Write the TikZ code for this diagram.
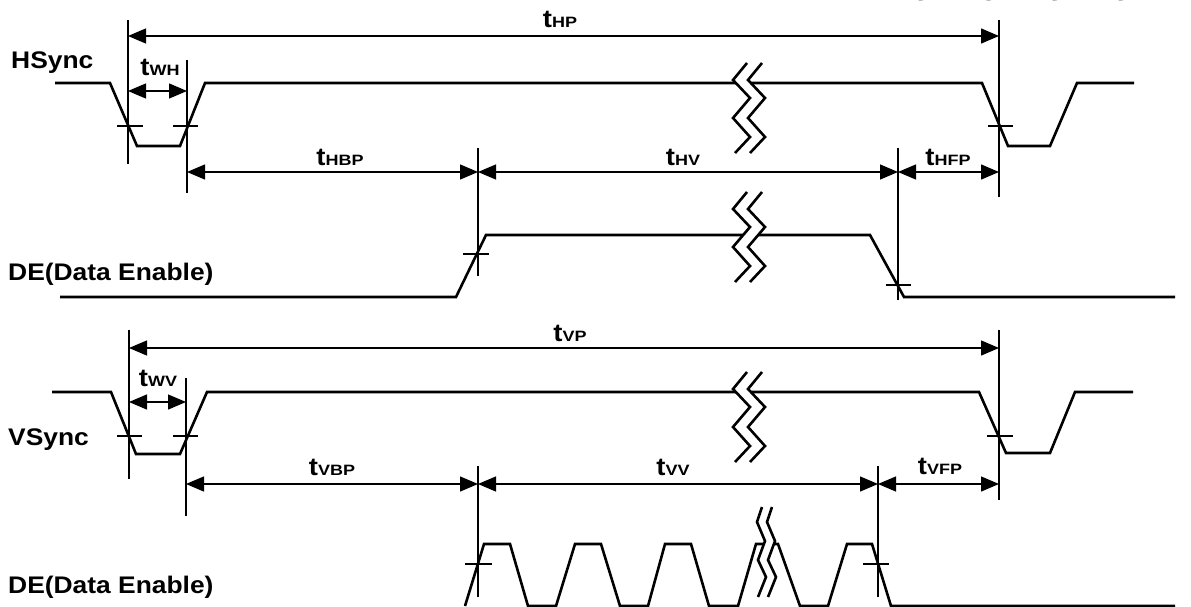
\documentclass[tikz,border=0pt]{standalone}
\usepackage{fontspec}
\setmainfont{Liberation Sans}[FakeStretch=1.1]
\usetikzlibrary{arrows.meta}

% timing label: big t with small subscript on the baseline
\newcommand{\tsub}[1]{{\fontsize{25}{25}\selectfont\bfseries t}{\fontsize{15}{15}\selectfont\bfseries\addfontfeature{FakeStretch=1.2}#1}}
% break mark across a waveform
\newcommand{\wavebreak}[1]{%
  \begin{scope}[shift={#1}]
    \fill[white] (0,0) -- (-14,17) -- (3,35) -- (-14,55) -- (3,74) -- (-12,90) -- (3,90) -- (18,74) -- (1,55) -- (18,35) -- (1,17) -- (15,0) -- cycle;
    \draw[wave] (0,0) -- (-14,17) -- (3,35) -- (-14,55) -- (3,74) -- (-12,90);
    \draw[wave] (15,0) -- (1,17) -- (18,35) -- (1,55) -- (18,74) -- (3,90);
  \end{scope}}

\begin{document}
\begin{tikzpicture}[x=1pt, y=-1pt,
  wave/.style={line width=2.6pt},
  refline/.style={line width=1.5pt},
  crossmark/.style={line width=1.2pt},
  dimline/.style={line width=1.3pt, {Triangle[length=18pt,width=15pt]}-{Triangle[length=18pt,width=15pt]}},
  sig/.style={font=\fontsize{24}{24}\selectfont\bfseries, anchor=west, inner sep=0pt},
  tlab/.style={inner sep=0pt}]
\useasboundingbox (0,0) rectangle (1191,607);

% formula cut by the top edge
\node[tlab, anchor=base west, scale=1.45] (formula) at (912,1) {\tsub{VD} = \tsub{VP} + \tsub{VV} + \tsub{VFP}};

% signal names
\node[sig] (hsync) at (11,63) {HSync};
\node[sig] (de1) at (8,274) {DE(Data Enable)};
\node[sig] (vsync) at (8,440) {VSync};
\node[sig] (de2) at (8,587) {DE(Data Enable)};

% ---- HSync ----
\draw[wave] (55,83) -- (110,83) -- (137,146) -- (180,146) -- (205,83) -- (982,83) -- (1008,146) -- (1050,146) -- (1077,83) -- (1134,83);
\wavebreak{(747,63)}
\coordinate (h1) at (128,20);  \coordinate (h1b) at (128,164);
\coordinate (h2) at (187,60);  \coordinate (h2b) at (187,193);
\coordinate (h3) at (999,20);  \coordinate (h3b) at (999,197);
\draw[refline] (h1) -- (h1b);
\draw[refline] (h2) -- (h2b);
\draw[refline] (h3) -- (h3b);
\draw[crossmark] (117,126) -- (143,126);
\draw[crossmark] (173,126) -- (198,126);
\draw[crossmark] (988,126) -- (1013,126);

% ---- DE (line) ----
\draw[wave] (60,297) -- (456,297) -- (486,235) -- (870,235) -- (904,297) -- (1175,297);
\wavebreak{(747,192)}
\coordinate (d1) at (478,148); \coordinate (d1b) at (478,276);
\coordinate (d2) at (898,148); \coordinate (d2b) at (898,300);
\draw[refline] (d1) -- (d1b);
\draw[refline] (d2) -- (d2b);
\draw[crossmark] (463,254) -- (489,254);
\draw[crossmark] (886,285) -- (911,285);

% horizontal timings
\draw[dimline] (128,36) -- (999,36);
\node[tlab] (thp) at (560,19) {\tsub{HP}};
\draw[dimline] (128,91) -- (187,91);
\node[tlab] (twh) at (160,67) {\tsub{WH}};
\draw[dimline] (187,172) -- (478,172);
\node[tlab] (thbp) at (340,157) {\tsub{HBP}};
\draw[dimline] (478,172) -- (898,172);
\node[tlab] (thv) at (683,157) {\tsub{HV}};
\draw[dimline] (898,172) -- (999,172);
\node[tlab] (thfp) at (948,157) {\tsub{HFP}};

% ---- VSync ----
\draw[wave] (52,392) -- (111,392) -- (136,454) -- (180,454) -- (207,392) -- (979,392) -- (1006,453) -- (1050,453) -- (1075,392) -- (1133,392);
\wavebreak{(747,372)}
\coordinate (v1) at (129,330); \coordinate (v1b) at (129,479);
\coordinate (v2) at (186,378); \coordinate (v2b) at (186,516);
\coordinate (v3) at (999,330); \coordinate (v3b) at (999,500);
\draw[refline] (v1) -- (v1b);
\draw[refline] (v2) -- (v2b);
\draw[refline] (v3) -- (v3b);
\draw[crossmark] (117,436) -- (142,436);
\draw[crossmark] (173,436) -- (198,436);
\draw[crossmark] (987,436) -- (1013,436);

% ---- DE (frame) ----
\draw[wave] (465,606) -- (484,544) -- (510,544) -- (528,606) -- (556,606) -- (575,544) -- (601,544) -- (620,606) -- (648,606) -- (665,544) -- (691,544) -- (709,606) -- (738,606) -- (756,544) -- (778,544) -- (800,606) -- (828,606) -- (847,544) -- (872,544) -- (891,606) -- (1175,606);
\fill[white] (762,507) -- (757,522) -- (765,541) -- (758,560) -- (766,577) -- (758,597) -- (768,597) -- (776,577) -- (768,560) -- (775,541) -- (767,522) -- (772,507) -- cycle;
\draw[wave] (762,507) -- (757,522) -- (765,541) -- (758,560) -- (766,577) -- (758,597);
\draw[wave] (772,507) -- (767,522) -- (775,541) -- (768,560) -- (776,577) -- (768,597);
\coordinate (e1) at (478,466); \coordinate (e1b) at (478,597);
\coordinate (e2) at (878,466); \coordinate (e2b) at (878,597);
\draw[refline] (e1) -- (e1b);
\draw[refline] (e2) -- (e2b);
\draw[crossmark] (465,564) -- (492,564);
\draw[crossmark] (863,564) -- (889,564);

% vertical timings
\draw[dimline] (129,348) -- (999,348);
\node[tlab] (tvp) at (570,333) {\tsub{VP}};
\draw[dimline] (129,402) -- (186,402);
\node[tlab] (twv) at (158,378) {\tsub{WV}};
\draw[dimline] (186,484) -- (478,484);
\node[tlab] (tvbp) at (332,467) {\tsub{VBP}};
\draw[dimline] (478,484) -- (878,484);
\node[tlab] (tvv) at (673,467) {\tsub{VV}};
\draw[dimline] (878,484) -- (999,484);
\node[tlab] (tvfp) at (940,466) {\tsub{VFP}};
\end{tikzpicture}
\end{document}
